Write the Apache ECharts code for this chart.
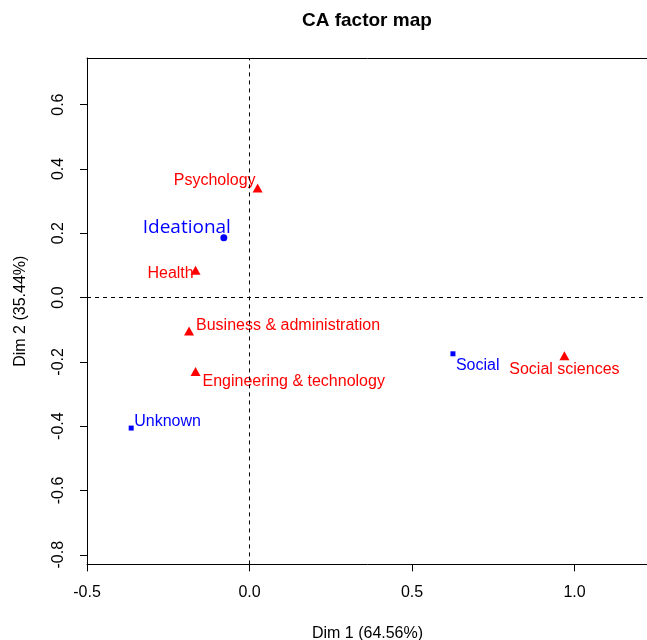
<!DOCTYPE html>
<html>
<head>
<meta charset="utf-8">
<script src="https://cdn.jsdelivr.net/npm/echarts@6/dist/echarts.min.js"></script>
<style>html,body{margin:0;padding:0;background:#fff}#c{width:647px;height:640px}</style>
</head>
<body>
<div id="c"></div>
<script>
// ---- data ----
const rowNames = ['Ideational', 'Unknown', 'Social'];
const rowDim1 = [-0.079, -0.364, 0.626];
const rowDim2 = [0.186, -0.406, -0.175];

const colNames = ['Psychology', 'Health', 'Business & administration', 'Engineering & technology', 'Social sciences'];
const colDim1 = [0.025, -0.166, -0.186, -0.166, 0.969];
const colDim2 = [0.341, 0.085, -0.104, -0.230, -0.181];

const xTicks = [-0.5, 0.0, 0.5, 1.0];
const yTicks = [-0.8, -0.6, -0.4, -0.2, 0.0, 0.2, 0.4, 0.6];

const titleText = 'CA factor map';
const xName = 'Dim 1 (64.56%)';
const yName = 'Dim 2 (35.44%)';

// ---- layout / style (not data) ----
const labelLayout = {
  'Ideational': { offset: [-37, -10], align: 'center', font: '"Open Sans"', size: 19 },
  'Unknown': { offset: [3, -6], align: 'left' },
  'Social': { offset: [3, 12], align: 'left' },
  'Psychology': { offset: [-43, -7], align: 'center' },
  'Health': { offset: [-25, 3], align: 'center' },
  'Business & administration': { offset: [7, -5], align: 'left' },
  'Engineering & technology': { offset: [7, 10], align: 'left' },
  'Social sciences': { offset: [0, 14], align: 'center' }
};
const rowSymbols = { 'Ideational': ['circle', 7], 'Unknown': ['rect', 5], 'Social': ['rect', 5] };

function item(name, x, y, color) {
  const l = labelLayout[name];
  return {
    name: name,
    value: [x, y],
    label: {
      show: true, position: 'inside', formatter: name, color: color, opacity: 1,
      offset: l.offset, align: l.align, verticalAlign: 'middle',
      fontFamily: l.font || '"Liberation Sans", Arial, sans-serif',
      fontSize: l.size || 16
    }
  };
}

const rowData = rowNames.map((n, i) => {
  const d = item(n, rowDim1[i], rowDim2[i], '#0000FF');
  d.symbol = rowSymbols[n][0];
  d.symbolSize = rowSymbols[n][1];
  return d;
});
const colData = colNames.map((n, i) => item(n, colDim1[i], colDim2[i], '#FF0000'));

const axisFont = { fontFamily: '"Liberation Sans", Arial, sans-serif', fontSize: 16, color: '#000' };

const chart = echarts.init(document.getElementById('c'), null, { renderer: 'canvas' });
chart.setOption({
  animation: false,
  backgroundColor: '#fff',
  title: {
    text: titleText, left: 302, top: 11, padding: 0,
    textStyle: { fontFamily: '"Liberation Sans", Arial, sans-serif', fontSize: 19, fontWeight: 'bold', color: '#000' }
  },
  grid: { left: 87, top: 58, width: 585, height: 506.4, containLabel: false, outerBoundsMode: 'none', show: false },
  xAxis: [{
    type: 'value', min: -0.5, max: 1.3, position: 'bottom',
    name: xName, nameLocation: 'middle', nameGap: 61,
    nameTextStyle: Object.assign({ verticalAlign: 'top', padding: [0, 24, 0, 0] }, axisFont),
    axisLine: { show: true, onZero: false, lineStyle: { color: '#000', width: 1 } },
    axisTick: { show: true, inside: false, length: 7, customValues: xTicks, lineStyle: { color: '#000' } },
    axisLabel: Object.assign({ customValues: xTicks, margin: 20, formatter: v => v.toFixed(1) }, axisFont),
    splitLine: { show: false }
  }, {
    type: 'value', min: -0.5, max: 1.3, position: 'top',
    axisLine: { show: true, onZero: false, lineStyle: { color: '#000', width: 1 } },
    axisTick: { show: false }, axisLabel: { show: false }, splitLine: { show: false }
  }],
  yAxis: {
    type: 'value', min: -0.83, max: 0.745,
    name: yName, nameLocation: 'middle', nameGap: 58, nameRotate: 90,
    nameTextStyle: axisFont,
    axisLine: { show: true, onZero: false, lineStyle: { color: '#000', width: 1 } },
    axisTick: { show: true, inside: false, length: 7, customValues: yTicks, lineStyle: { color: '#000' } },
    axisLabel: Object.assign({ customValues: yTicks, margin: 20, rotate: 90, formatter: v => v.toFixed(1) }, axisFont),
    splitLine: { show: false }
  },
  series: [
    {
      type: 'scatter', name: 'cols', data: colData,
      symbol: 'triangle', symbolSize: [10, 9],
      itemStyle: { color: '#FF0000', opacity: 1 },
      markLine: {
        silent: true, symbol: ['none', 'none'], label: { show: false },
        lineStyle: { color: '#000', type: [4, 4], width: 1, opacity: 1 },
        data: [{ xAxis: 0 }, { yAxis: 0 }]
      }
    },
    {
      type: 'scatter', name: 'rows', data: rowData,
      itemStyle: { color: '#0000FF', opacity: 1 }
    }
  ]
});
</script>
</body>
</html>
